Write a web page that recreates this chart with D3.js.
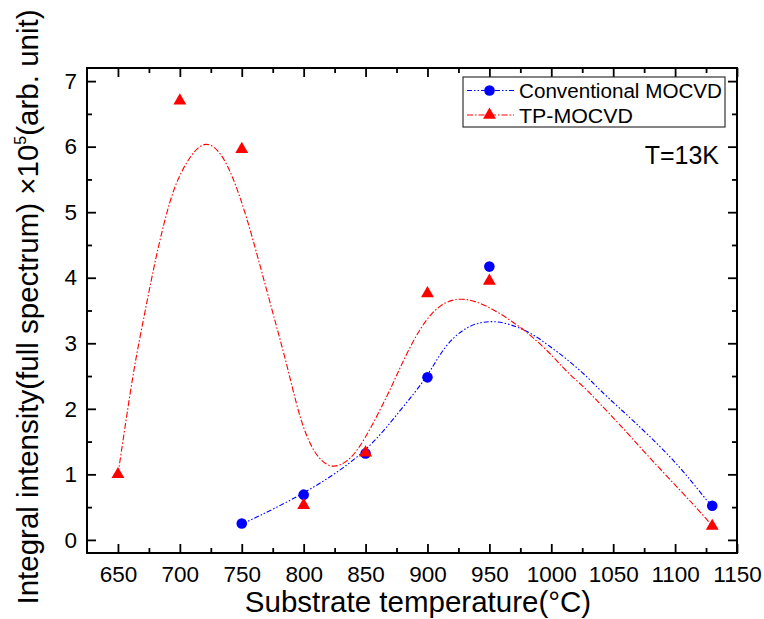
<!DOCTYPE html>
<html lang="en">
	<head>
		<meta charset="utf-8">
		<title>Integral intensity vs substrate temperature</title>
		<script type="text/javascript" src="https://d3js.org/d3.v7.min.js"></script>
		<style>
			body { margin: 0; background: #fff; }
			text { font-family: "Liberation Sans", Arial, sans-serif; fill: #000; }
		</style>
	</head>
	<body>
		<div id="grafica"></div>
		<script type="text/javascript">

			// measured points
			var convTemp = [750, 800, 850, 900, 950, 1130];
			var convVal = [0.25, 0.69, 1.32, 2.48, 4.17, 0.52];
			var tpTemp = [650, 700, 750, 800, 850, 900, 950, 1130];
			var tpVal = [1.0, 6.7, 5.96, 0.53, 1.33, 3.76, 3.95, 0.21];

			// fitted curves
			var convFitTemp = [750, 800, 850, 878, 900, 913, 932, 953, 972, 986, 999, 1012, 1029, 1039, 1054, 1077, 1104, 1125, 1130];
			var convFitVal = [0.24, 0.69, 1.31, 1.98, 2.48, 2.95, 3.28, 3.36, 3.26, 3.13, 2.95, 2.77, 2.49, 2.29, 2.03, 1.63, 1.12, 0.61, 0.52];
			var tpFitTemp = [650, 655, 663, 671, 679, 687, 696, 709, 721, 733, 743, 754, 765, 776, 787, 797, 808, 821, 835, 848, 870, 878, 894, 910, 928, 948, 969, 985, 1002, 1012, 1029, 1039, 1054, 1077, 1104, 1125, 1130];
			var tpFitVal = [1.0, 1.63, 2.64, 3.40, 4.17, 4.83, 5.44, 5.89, 6.10, 5.92, 5.54, 4.93, 4.17, 3.40, 2.64, 1.83, 1.32, 1.08, 1.17, 1.47, 2.29, 2.64, 3.25, 3.61, 3.71, 3.58, 3.33, 3.10, 2.79, 2.57, 2.29, 2.08, 1.79, 1.30, 0.76, 0.33, 0.21];

			var xTicks = [650, 700, 750, 800, 850, 900, 950, 1000, 1050, 1100, 1150];
			var xMinor = [675, 725, 775, 825, 875, 925, 975, 1025, 1075, 1125];
			var yTicks = [0, 1, 2, 3, 4, 5, 6, 7];
			var yMinor = [0.5, 1.5, 2.5, 3.5, 4.5, 5.5, 6.5];

			var seriesNames = ["Conventional MOCVD", "TP-MOCVD"];

			var w = 764;
			var h = 619;
			var pLeft = 87, pRight = 737, pTop = 68, pBottom = 553;

			var svg = d3.select("#grafica")
						.append("svg")
						.attr("width", w)
						.attr("height", h);

			var x = d3.scaleLinear().domain([625, 1150]).range([pLeft, pRight]);
			var y = d3.scaleLinear().domain([-0.2, 7.2]).range([pBottom, pTop]);

			function styleAxis(g){
				g.select(".domain").remove();
				g.selectAll(".tick line").attr("stroke", "#000").attr("stroke-width", 1.8);
				g.selectAll("text").attr("font-size", 22.5);
			}

			// major and minor ticks on all four sides, pointing inward
			svg.append("g")
				.attr("transform", "translate(0," + pBottom + ")")
				.call(d3.axisBottom(x).tickValues(xTicks).tickSize(-9).tickPadding(13).tickFormat(d3.format("d")))
				.call(styleAxis);
			svg.append("g")
				.attr("transform", "translate(0," + pBottom + ")")
				.call(d3.axisBottom(x).tickValues(xMinor).tickSize(-5).tickFormat(""))
				.call(styleAxis);
			svg.append("g")
				.attr("transform", "translate(0," + pTop + ")")
				.call(d3.axisTop(x).tickValues(xTicks).tickSize(-9).tickFormat(""))
				.call(styleAxis);
			svg.append("g")
				.attr("transform", "translate(0," + pTop + ")")
				.call(d3.axisTop(x).tickValues(xMinor).tickSize(-5).tickFormat(""))
				.call(styleAxis);
			svg.append("g")
				.attr("transform", "translate(" + pLeft + ",0)")
				.call(d3.axisLeft(y).tickValues(yTicks).tickSize(-9).tickPadding(10).tickFormat(d3.format("d")))
				.call(styleAxis);
			svg.append("g")
				.attr("transform", "translate(" + pLeft + ",0)")
				.call(d3.axisLeft(y).tickValues(yMinor).tickSize(-5).tickFormat(""))
				.call(styleAxis);
			svg.append("g")
				.attr("transform", "translate(" + pRight + ",0)")
				.call(d3.axisRight(y).tickValues(yTicks).tickSize(-9).tickFormat(""))
				.call(styleAxis);
			svg.append("g")
				.attr("transform", "translate(" + pRight + ",0)")
				.call(d3.axisRight(y).tickValues(yMinor).tickSize(-5).tickFormat(""))
				.call(styleAxis);

			svg.append("rect")
				.attr("x", pLeft)
				.attr("y", pTop)
				.attr("width", pRight - pLeft)
				.attr("height", pBottom - pTop)
				.attr("fill", "none")
				.attr("stroke", "#000")
				.attr("stroke-width", 2);

			// fit lines
			var line = d3.line()
						.x(function(d){ return x(d[0]); })
						.y(function(d){ return y(d[1]); })
						.curve(d3.curveBasis);

			svg.append("path")
				.attr("d", line(d3.zip(convFitTemp, convFitVal)))
				.attr("fill", "none")
				.attr("stroke", "#0000ff")
				.attr("stroke-width", 1.1)
				.attr("stroke-dasharray", "5,2,1.5,2,1.5,2");

			svg.append("path")
				.attr("d", line(d3.zip(tpFitTemp, tpFitVal)))
				.attr("fill", "none")
				.attr("stroke", "#ff0000")
				.attr("stroke-width", 1.1)
				.attr("stroke-dasharray", "6,2,1.5,2");

			var tri = d3.symbol().type(d3.symbolTriangle).size(72);

			svg.selectAll(".conv")
				.data(d3.zip(convTemp, convVal))
				.enter()
				.append("circle")
				.attr("class", "conv")
				.attr("cx", function(d){ return x(d[0]); })
				.attr("cy", function(d){ return y(d[1]); })
				.attr("r", 5.3)
				.attr("fill", "#0000ff");

			svg.selectAll(".tp")
				.data(d3.zip(tpTemp, tpVal))
				.enter()
				.append("path")
				.attr("class", "tp")
				.attr("d", tri)
				.attr("transform", function(d){ return "translate(" + x(d[0]) + "," + y(d[1]) + ")"; })
				.attr("fill", "#ff0000");

			// legend
			var leg = svg.append("g").attr("transform", "translate(463,77)");
			leg.append("rect")
				.attr("width", 262)
				.attr("height", 50)
				.attr("fill", "#fff")
				.attr("stroke", "#333")
				.attr("stroke-width", 1.2);
			leg.append("line")
				.attr("x1", 4).attr("x2", 51).attr("y1", 13.5).attr("y2", 13.5)
				.attr("stroke", "#0000ff").attr("stroke-width", 1.1)
				.attr("stroke-dasharray", "5,2,1.5,2,1.5,2");
			leg.append("circle")
				.attr("cx", 26.5).attr("cy", 13.5).attr("r", 5.3)
				.attr("fill", "#0000ff");
			leg.append("line")
				.attr("x1", 4).attr("x2", 51).attr("y1", 38).attr("y2", 38)
				.attr("stroke", "#ff0000").attr("stroke-width", 1.1)
				.attr("stroke-dasharray", "6,2,1.5,2");
			leg.append("path")
				.attr("d", tri)
				.attr("transform", "translate(26.5,38)")
				.attr("fill", "#ff0000");
			leg.selectAll(".legtext")
				.data(seriesNames)
				.enter()
				.append("text")
				.attr("class", "legtext")
				.attr("x", 56)
				.attr("y", function(d, i){ return 21 + i * 24.5; })
				.attr("font-size", 20)
				.attr("textLength", function(d, i){ return i == 0 ? 203 : 114; })
				.attr("lengthAdjust", "spacingAndGlyphs")
				.text(function(d){ return d; });

			svg.append("text")
				.attr("x", 719)
				.attr("y", 164)
				.attr("text-anchor", "end")
				.attr("font-size", 25)
				.text("T=13K");

			// axis titles
			svg.append("text")
				.attr("x", 418)
				.attr("y", 612)
				.attr("text-anchor", "middle")
				.attr("font-size", 29.5)
				.text("Substrate temperature(°C)");

			var yt = svg.append("text")
				.attr("transform", "translate(38,307) rotate(-90)")
				.attr("text-anchor", "middle")
				.attr("font-size", 29.5);
			yt.append("tspan").text("Integral intensity(full spectrum) ×10");
			yt.append("tspan").attr("font-size", 16).attr("dy", -12).text("5");
			yt.append("tspan").attr("dy", 12).text("(arb. unit)");

		</script>
	</body>
</html>
